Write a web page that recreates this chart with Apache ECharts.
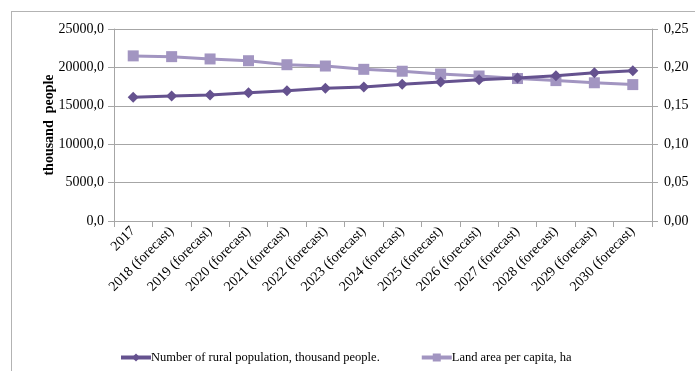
<!DOCTYPE html>
<html>
<head>
<meta charset="utf-8">
<script src="https://cdn.jsdelivr.net/npm/echarts@6/dist/echarts.min.js"></script>
<style>
  html, body { margin: 0; padding: 0; background: #fff; }
  #chart { width: 695px; height: 371px; }
</style>
</head>
<body>
<div id="chart"></div>
<script>
// Years of the projection
const years = ['2017', '2018 (forecast)', '2019 (forecast)', '2020 (forecast)', '2021 (forecast)',
  '2022 (forecast)', '2023 (forecast)', '2024 (forecast)', '2025 (forecast)', '2026 (forecast)',
  '2027 (forecast)', '2028 (forecast)', '2029 (forecast)', '2030 (forecast)'];

// Rural population, thousand people (left axis)
const ruralPopulation = [16100, 16280, 16420, 16700, 16970, 17280, 17450,
  17800, 18100, 18380, 18620, 18900, 19300, 19550];

// Land area per capita, ha (right axis)
const landPerCapita = [0.215, 0.214, 0.211, 0.2087, 0.2035, 0.2018, 0.1975,
  0.195, 0.1914, 0.1888, 0.1855, 0.1828, 0.180, 0.1776];

const popName = 'Number of rural population, thousand people.';
const landName = 'Land area per capita, ha';

const serif = '"Liberation Serif", "Times New Roman", serif';
const axisGray = '#a6a6a6';
const popColor = '#65528f';
const landColor = '#a295c1';

const chart = echarts.init(document.getElementById('chart'));

chart.setOption({
  animation: false,
  textStyle: { fontFamily: serif, color: '#000' },
  grid: { left: 114, right: 43, top: 29, bottom: 150, containLabel: false },
  legend: {
    top: 346,
    left: 114,
    itemGap: 40,
    itemWidth: 30,
    itemHeight: 10,
    lineStyle: { width: 4 },
    textStyle: { fontFamily: serif, fontSize: 12.5, color: '#000', padding: [0, 0, 0, -5] },
    data: [popName, landName]
  },
  xAxis: {
    type: 'category',
    data: years,
    boundaryGap: true,
    axisLine: { lineStyle: { color: axisGray, width: 1 } },
    axisTick: { show: true, length: 6, lineStyle: { color: axisGray } },
    axisLabel: {
      interval: 0,
      rotate: 45,
      fontFamily: serif,
      fontSize: 14,
      color: '#000',
      margin: 8
    }
  },
  yAxis: [
    {
      type: 'value',
      min: 0,
      max: 25000,
      interval: 5000,
      name: 'thousand  people',
      nameLocation: 'middle',
      nameRotate: 90,
      nameGap: 58,
      nameMoveOverlap: false,
      nameTextStyle: { fontFamily: serif, fontSize: 14, fontWeight: 'bold', color: '#000' },
      axisLine: { show: true, lineStyle: { color: axisGray } },
      axisTick: { show: true, length: 6, lineStyle: { color: axisGray } },
      splitLine: { show: true, lineStyle: { color: axisGray, width: 1 } },
      axisLabel: {
        fontFamily: serif,
        fontSize: 14,
        color: '#000',
        margin: 10,
        formatter: v => v.toFixed(1).replace('.', ',')
      }
    },
    {
      type: 'value',
      min: 0,
      max: 0.25,
      interval: 0.05,
      position: 'right',
      axisLine: { show: true, lineStyle: { color: axisGray } },
      axisTick: { show: true, length: 6, lineStyle: { color: axisGray } },
      splitLine: { show: false },
      axisLabel: {
        fontFamily: serif,
        fontSize: 14,
        color: '#000',
        margin: 12,
        formatter: v => v.toFixed(2).replace('.', ',')
      }
    }
  ],
  series: [
    {
      name: popName,
      type: 'line',
      yAxisIndex: 0,
      data: ruralPopulation,
      symbol: 'diamond',
      symbolSize: 11,
      lineStyle: { color: popColor, width: 3 },
      itemStyle: { color: popColor },
      z: 3
    },
    {
      name: landName,
      type: 'line',
      yAxisIndex: 1,
      data: landPerCapita,
      symbol: 'rect',
      symbolSize: 11,
      lineStyle: { color: landColor, width: 3 },
      itemStyle: { color: landColor },
      z: 2
    }
  ],
  graphic: [
    // chart frame: top and left edges
    { type: 'line', shape: { x1: 11, y1: 11.5, x2: 695, y2: 11.5 }, style: { stroke: '#b3b3b3', lineWidth: 1 } },
    { type: 'line', shape: { x1: 11.5, y1: 11, x2: 11.5, y2: 371 }, style: { stroke: '#b3b3b3', lineWidth: 1 } }
  ]
});
</script>
</body>
</html>
